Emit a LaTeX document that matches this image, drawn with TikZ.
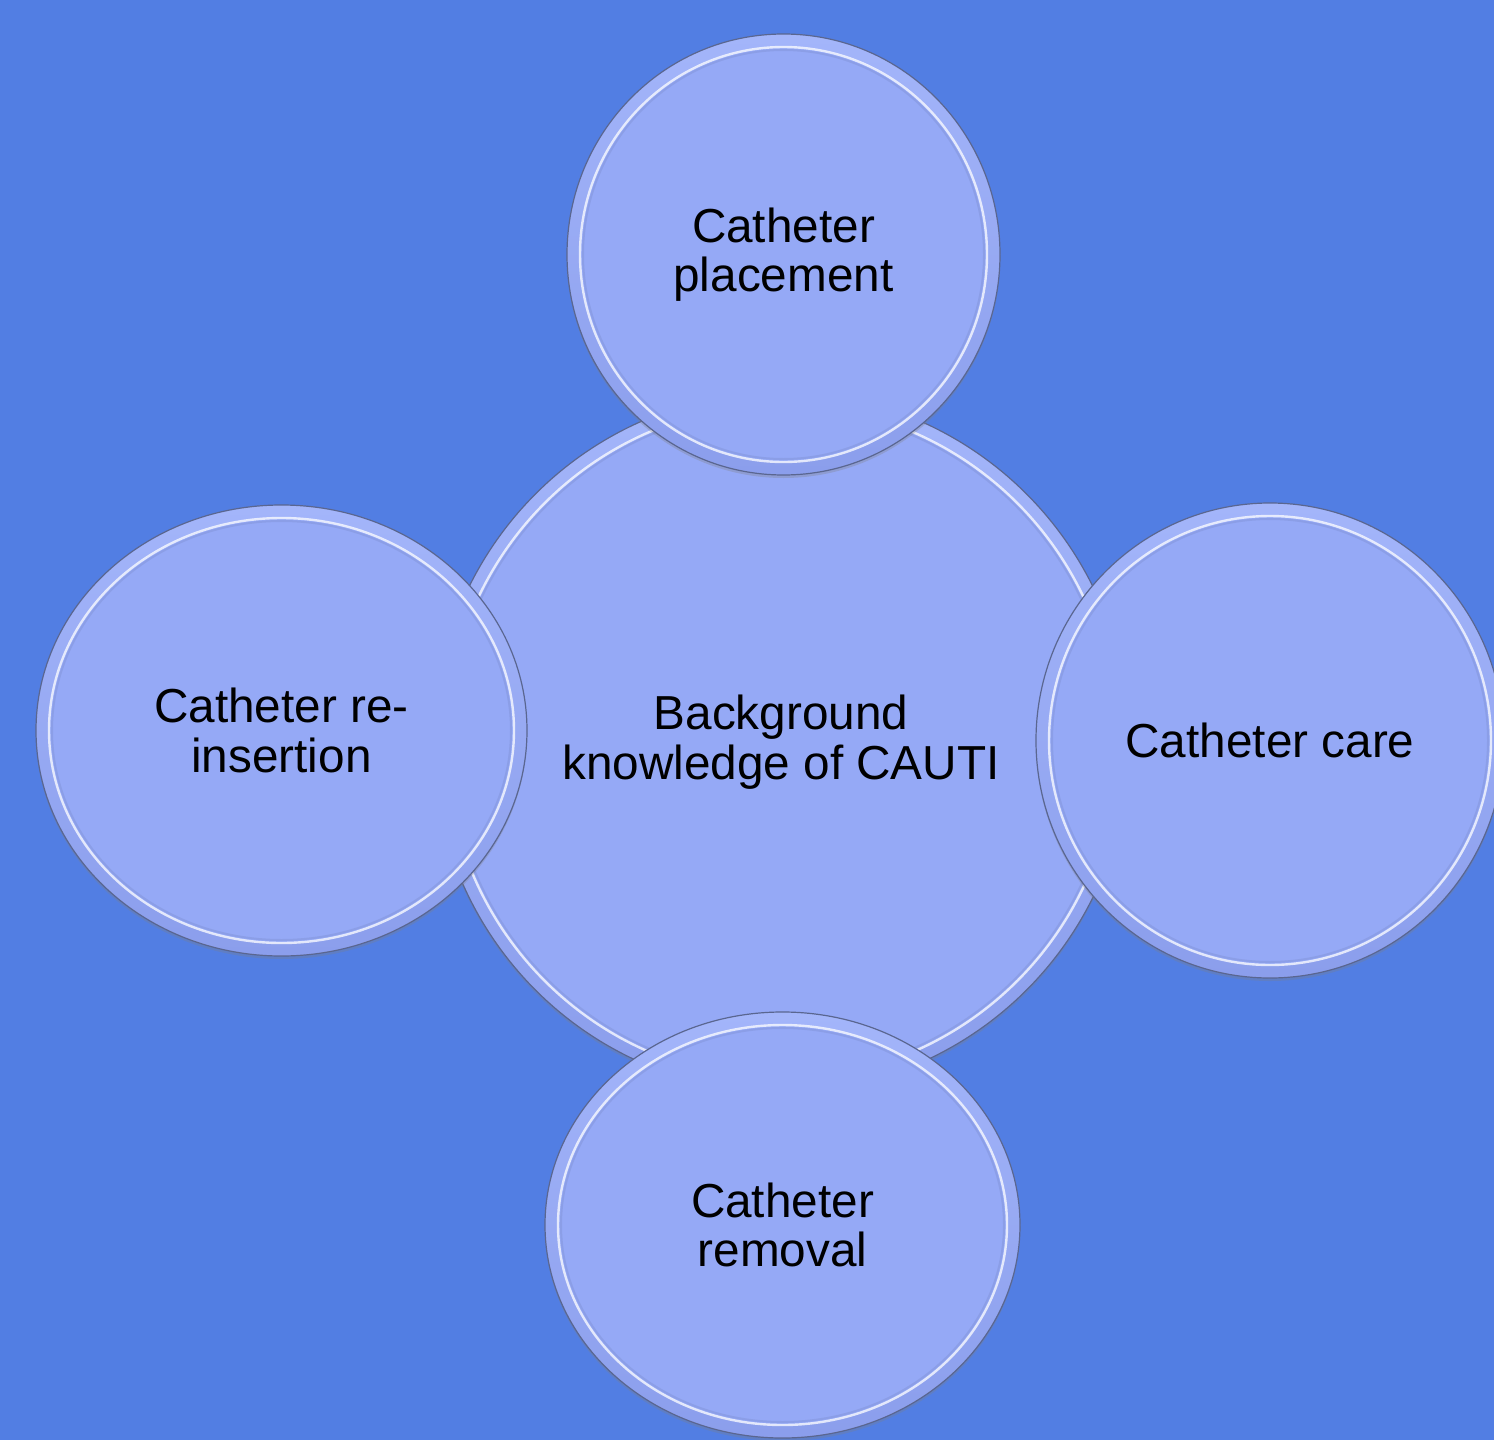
\documentclass[tikz,border=0pt]{standalone}
\usepackage{fontspec}
\setmainfont{Liberation Sans}
\usetikzlibrary{shapes.geometric,shadows,calc}
\definecolor{bgblue}{HTML}{527EE3}
\definecolor{discfill}{HTML}{95A9F6}
\definecolor{rimtop}{HTML}{A3B5FA}
\definecolor{rimbot}{HTML}{8B9EEC}
\definecolor{edgegray}{HTML}{5A6690}
\tikzset{
  disc/.style={ellipse, inner sep=0pt, top color=rimtop, bottom color=rimbot,
    draw=edgegray, line width=0.6pt,
    drop shadow={opacity=0.3, shadow xshift=0pt, shadow yshift=-1.5pt},
    align=center, text=black, font=\fontsize{23.85}{24.75}\selectfont,
    path picture={
      \fill[discfill, draw=white, draw opacity=0.75, line width=1.2pt]
        let \p1=(path picture bounding box.north east),
            \p2=(path picture bounding box.center) in
        (\p2) ellipse ({\x1-\x2-6.5pt} and {\y1-\y2-6.5pt});
      \draw[rimbot!80!black, opacity=0.25, line width=1pt]
        let \p1=(path picture bounding box.north east),
            \p2=(path picture bounding box.center) in
        (\p2) ellipse ({\x1-\x2-8pt} and {\y1-\y2-8pt});
    }},
}
\begin{document}
\begin{tikzpicture}[x=0.5pt,y=-0.5pt]
\fill[bgblue] (0,0) rectangle (1494,1440);
\useasboundingbox (0,0) rectangle (1494,1440);
\clip (0,0) rectangle (1494,1440);
\node[disc, minimum width=348pt, minimum height=350pt] (cauti) at (781,742) {Background\\knowledge of CAUTI};
\node[disc, minimum width=216.5pt, minimum height=220.5pt] (place) at (783.5,254.5) {Catheter\\placement};
\node[disc, minimum width=234pt, minimum height=237.5pt] (care) at (1270,740.5) {Catheter care};
\node[disc, minimum width=237.5pt, minimum height=213pt] (removal) at (782.5,1225) {Catheter\\removal};
\node[disc, minimum width=245.5pt, minimum height=225.5pt] (reins) at (281.5,730.5) {Catheter re-\\insertion};
\end{tikzpicture}
\end{document}
